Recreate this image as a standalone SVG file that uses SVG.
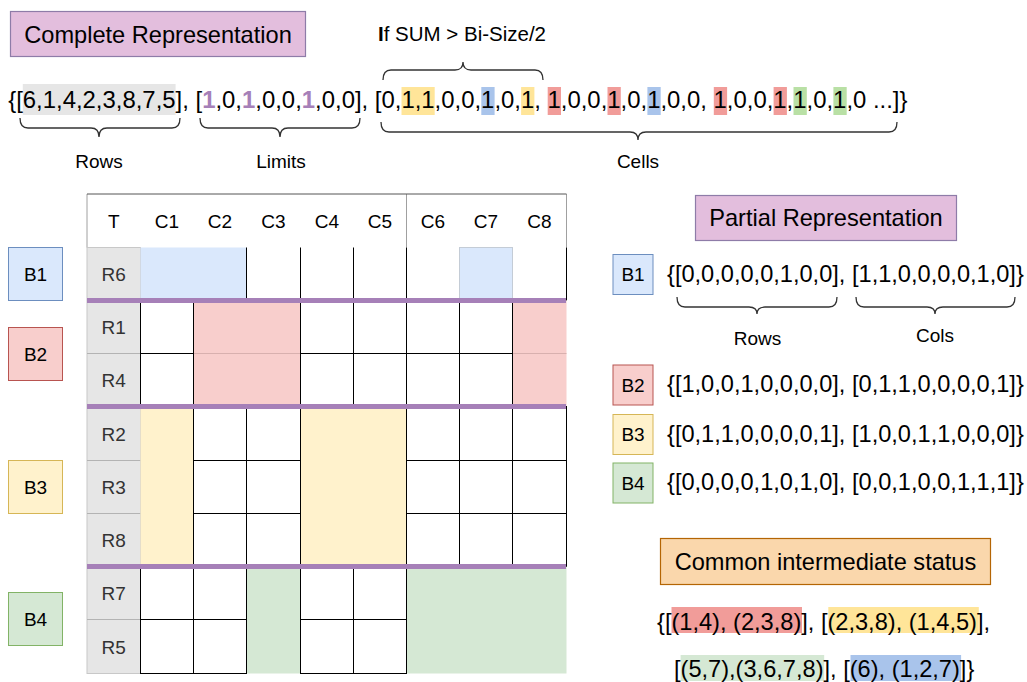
<svg xmlns="http://www.w3.org/2000/svg" width="1027" height="682" viewBox="0 0 1027 682">
<style>
text{font-family:"Liberation Sans",Arial,Helvetica,sans-serif;fill:#000}
.big{font-size:23.9px}
.mid{font-size:23.6px}
.sm{font-size:19px}
.c{text-anchor:middle}
.rl{fill:#333}
.p{fill:#A680B8;font-weight:bold}
.brace{fill:none;stroke:#333;stroke-width:1.3}
.wc{fill:#fff;stroke:#000;stroke-width:1}
.vl{stroke:#000;stroke-width:1}
.pl{stroke:#A680B8;stroke-width:5}
.hy{fill:#FFE599}.hb{fill:#A9C4EB}.hr{fill:#F19C99}.hg{fill:#B9E0A5}.hg2{fill:#D5E8D4}
.bb{fill:#DAE8FC;stroke:#6C8EBF}.br{fill:#F8CECC;stroke:#B85450}.by{fill:#FFF2CC;stroke:#D6B656}.bgr{fill:#D5E8D4;stroke:#82B366}
.title{fill:#E3BEDD;stroke:#8E7CA8;stroke-width:1.2}
</style>
<rect width="1027" height="682" fill="#fff"/>

<g id="complete-title">
<rect class="title" x="10.5" y="11.5" width="295" height="45"/>
<text class="mid c" x="158" y="42.5">Complete Representation</text>
</g>

<g id="complete-row">
<rect fill="#E6E6E6" x="22.8" y="84" width="152.8" height="31"/>
<rect class="hy" x="401.5" y="87" width="33.2" height="28"/>
<rect class="hb" x="481.3" y="87" width="13.3" height="28"/>
<rect class="hy" x="521.1" y="87" width="13.3" height="28"/>
<rect class="hr" x="547.7" y="87" width="13.3" height="28"/>
<rect class="hr" x="607.5" y="87" width="13.3" height="28"/>
<rect class="hb" x="647.4" y="87" width="13.3" height="28"/>
<rect class="hr" x="713.8" y="87" width="13.3" height="28"/>
<rect class="hr" x="773.6" y="87" width="13.3" height="28"/>
<rect class="hg" x="793.5" y="87" width="13.3" height="28"/>
<rect class="hg" x="833.4" y="87" width="13.3" height="28"/>
<text class="big" x="8.2" y="108">{[6,1,4,2,3,8,7,5], [<tspan class="p">1</tspan>,0,<tspan class="p">1</tspan>,0,0,<tspan class="p">1</tspan>,0,0], [0,1,1,0,0,1,0,1, 1,0,0,1,0,1,0,0, 1,0,0,1,1,0,1,0 ...]}</text>
<path class="brace" d="M20,118 Q20,128 28,128 L91,128 Q99,128 99,137 Q99,128 107,128 L172,128 Q180,128 180,118"/>
<path class="brace" d="M200,118 Q200,128 208,128 L272,128 Q280,128 280,137 Q280,128 288,128 L352,128 Q360,128 360,118"/>
<path class="brace" d="M381,122 Q381,132 389,132 L630,132 Q638,132 638,140 Q638,132 646,132 L889,132 Q897,132 897,122"/>
<path class="brace" d="M383,80 Q383,70 391,70 L455,70 Q463,70 463,62 Q463,70 471,70 L535,70 Q543,70 543,80"/>
<text class="sm c" x="99" y="168">Rows</text>
<text class="sm c" x="281" y="168">Limits</text>
<text class="sm c" x="638" y="168">Cells</text>
<text class="c" style="font-size:20.5px" x="462" y="41"><tspan font-weight="bold">I</tspan>f SUM &gt; Bi-Size/2</text>
</g>

<g id="table">
<rect x="87" y="194" width="479.5" height="53.5" fill="#fff"/>
<g stroke="#A0A0A0" stroke-width="1">
<line x1="87" y1="194" x2="87" y2="247.5"/>
<line x1="566.5" y1="194" x2="566.5" y2="247.5"/>
<line x1="406.5" y1="194" x2="406.5" y2="247.5"/>
</g>
<line x1="87" y1="194" x2="566.5" y2="194" stroke="#555" stroke-width="1"/>
<text class="sm c" x="113.7" y="228">T</text>
<text class="sm c" x="167" y="228">C1</text>
<text class="sm c" x="220" y="228">C2</text>
<text class="sm c" x="273.5" y="228">C3</text>
<text class="sm c" x="327" y="228">C4</text>
<text class="sm c" x="380" y="228">C5</text>
<text class="sm c" x="433" y="228">C6</text>
<text class="sm c" x="486" y="228">C7</text>
<text class="sm c" x="539.5" y="228">C8</text>

<rect x="87" y="247.5" width="53.5" height="426" fill="#E6E6E6" stroke="#C8C8C8" stroke-width="1"/>
<g stroke="#B3B3B3" stroke-width="1">
<line x1="87" y1="353.5" x2="140.5" y2="353.5"/>
<line x1="87" y1="460.5" x2="140.5" y2="460.5"/>
<line x1="87" y1="513.5" x2="140.5" y2="513.5"/>
<line x1="87" y1="619.5" x2="140.5" y2="619.5"/>
</g>
<text class="sm c rl" x="113.7" y="281">R6</text>
<text class="sm c rl" x="113.7" y="334">R1</text>
<text class="sm c rl" x="113.7" y="387">R4</text>
<text class="sm c rl" x="113.7" y="440.5">R2</text>
<text class="sm c rl" x="113.7" y="494">R3</text>
<text class="sm c rl" x="113.7" y="547">R8</text>
<text class="sm c rl" x="113.7" y="600">R7</text>
<text class="sm c rl" x="113.7" y="653.5">R5</text>

<!-- B1 row -->
<rect x="140.5" y="247.5" width="106" height="53" fill="#DAE8FC"/>
<rect x="459.5" y="247.5" width="53" height="53" fill="#DAE8FC" stroke="#C4CCD6" stroke-width="1"/>
<line class="vl" x1="246.5" y1="247.5" x2="246.5" y2="300.5"/>
<line class="vl" x1="300.5" y1="247.5" x2="300.5" y2="300.5"/>
<line class="vl" x1="353.5" y1="247.5" x2="353.5" y2="300.5"/>
<line class="vl" x1="406.5" y1="247.5" x2="406.5" y2="300.5"/>
<line class="vl" x1="566.5" y1="247.5" x2="566.5" y2="300.5"/>

<!-- B2 rows -->
<rect x="193.5" y="300.5" width="107" height="106" fill="#F8CECC"/>
<rect x="512.5" y="300.5" width="54" height="106" fill="#F8CECC"/>
<line x1="193.5" y1="353.5" x2="300.5" y2="353.5" stroke="#D8B0AE" stroke-width="1"/>
<line x1="512.5" y1="353.5" x2="566.5" y2="353.5" stroke="#D8B0AE" stroke-width="1"/>
<rect class="wc" x="140.5" y="300.5" width="53" height="53"/>
<rect class="wc" x="300.5" y="300.5" width="53" height="53"/>
<rect class="wc" x="353.5" y="300.5" width="53" height="53"/>
<rect class="wc" x="406.5" y="300.5" width="53" height="53"/>
<rect class="wc" x="459.5" y="300.5" width="53" height="53"/>
<rect class="wc" x="140.5" y="353.5" width="53" height="53"/>
<rect class="wc" x="300.5" y="353.5" width="53" height="53"/>
<rect class="wc" x="353.5" y="353.5" width="53" height="53"/>
<rect class="wc" x="406.5" y="353.5" width="53" height="53"/>
<rect class="wc" x="459.5" y="353.5" width="53" height="53"/>

<!-- B3 rows -->
<rect x="140.5" y="406.5" width="53" height="160" fill="#FFF2CC"/>
<rect x="300.5" y="406.5" width="106" height="160" fill="#FFF2CC"/>
<rect class="wc" x="193.5" y="406.5" width="53" height="54"/>
<rect class="wc" x="246.5" y="406.5" width="54" height="54"/>
<rect class="wc" x="406.5" y="406.5" width="53" height="54"/>
<rect class="wc" x="459.5" y="406.5" width="53" height="54"/>
<rect class="wc" x="512.5" y="406.5" width="54" height="54"/>
<rect class="wc" x="193.5" y="460.5" width="53" height="53"/>
<rect class="wc" x="246.5" y="460.5" width="54" height="53"/>
<rect class="wc" x="406.5" y="460.5" width="53" height="53"/>
<rect class="wc" x="459.5" y="460.5" width="53" height="53"/>
<rect class="wc" x="512.5" y="460.5" width="54" height="53"/>
<rect class="wc" x="193.5" y="513.5" width="53" height="53"/>
<rect class="wc" x="246.5" y="513.5" width="54" height="53"/>
<rect class="wc" x="406.5" y="513.5" width="53" height="53"/>
<rect class="wc" x="459.5" y="513.5" width="53" height="53"/>
<rect class="wc" x="512.5" y="513.5" width="54" height="53"/>

<!-- B4 rows -->
<rect x="246.5" y="566.5" width="54" height="107" fill="#D5E8D4"/>
<rect x="406.5" y="566.5" width="160" height="107" fill="#D5E8D4"/>
<rect class="wc" x="140.5" y="566.5" width="53" height="53"/>
<rect class="wc" x="193.5" y="566.5" width="53" height="53"/>
<rect class="wc" x="300.5" y="566.5" width="53" height="53"/>
<rect class="wc" x="353.5" y="566.5" width="53" height="53"/>
<rect class="wc" x="140.5" y="619.5" width="53" height="54"/>
<rect class="wc" x="193.5" y="619.5" width="53" height="54"/>
<rect class="wc" x="300.5" y="619.5" width="53" height="54"/>
<rect class="wc" x="353.5" y="619.5" width="53" height="54"/>

<line class="pl" x1="87" y1="300.5" x2="566" y2="300.5"/>
<line class="pl" x1="87" y1="406.5" x2="566" y2="406.5"/>
<line class="pl" x1="87" y1="566.5" x2="566" y2="566.5"/>
</g>

<g id="B1"><rect class="bb" x="8.5" y="247.5" width="54" height="53"/><text class="sm c" x="35.5" y="280.5">B1</text></g>
<g id="B2"><rect class="br" x="8.5" y="327.5" width="54" height="53"/><text class="sm c" x="35.5" y="360.5">B2</text></g>
<g id="B3"><rect class="by" x="8.5" y="460.5" width="54" height="53"/><text class="sm c" x="35.5" y="493.5">B3</text></g>
<g id="B4"><rect class="bgr" x="8.5" y="592.5" width="54" height="53"/><text class="sm c" x="35.5" y="625.5">B4</text></g>

<g id="partial-title">
<rect class="title" x="695.5" y="195.5" width="261" height="45"/>
<text class="mid c" x="826" y="226">Partial Representation</text>
</g>

<g id="partial-B1">
<rect class="bb" x="613" y="254.5" width="40" height="40"/><text class="sm c" x="633" y="281">B1</text>
<text class="mid" x="667" y="282">{[0,0,0,0,0,1,0,0], [1,1,0,0,0,0,1,0]}</text>
<path class="brace" d="M677,297 Q677,307 685,307 L749,307 Q757,307 757,314 Q757,307 765,307 L829,307 Q837,307 837,297"/>
<path class="brace" d="M856,297 Q856,307 864,307 L927,307 Q935,307 935,314 Q935,307 943,307 L1007,307 Q1015,307 1015,297"/>
<text class="sm c" x="757.5" y="345">Rows</text>
<text class="sm c" x="935" y="342">Cols</text>
</g>
<g id="partial-B2">
<rect class="br" x="613" y="365" width="40" height="40"/><text class="sm c" x="633" y="391.5">B2</text>
<text class="mid" x="667" y="392">{[1,0,0,1,0,0,0,0], [0,1,1,0,0,0,0,1]}</text>
</g>
<g id="partial-B3">
<rect class="by" x="613" y="414.5" width="40" height="40"/><text class="sm c" x="633" y="441">B3</text>
<text class="mid" x="667" y="442">{[0,1,1,0,0,0,0,1], [1,0,0,1,1,0,0,0]}</text>
</g>
<g id="partial-B4">
<rect class="bgr" x="613" y="463" width="40" height="40"/><text class="sm c" x="633" y="489.5">B4</text>
<text class="mid" x="667" y="490">{[0,0,0,0,1,0,1,0], [0,0,1,0,0,1,1,1]}</text>
</g>

<g id="common-title">
<rect x="660.5" y="538.5" width="330" height="46" fill="#FAD7AC" stroke="#B46504" stroke-width="1.2"/>
<text class="mid c" x="825.5" y="570">Common intermediate status</text>
</g>
<g id="common-status">
<rect class="hr" x="671.5" y="607" width="130.5" height="26"/>
<rect class="hy" x="828.3" y="607" width="150.5" height="26"/>
<rect class="hg2" x="680.6" y="655" width="143.6" height="26"/>
<rect class="hb" x="850.5" y="655" width="110.6" height="26"/>
<text class="mid" x="657" y="630">{[(1,4), (2,3,8)], [(2,3,8), (1,4,5)],</text>
<text class="mid" x="674" y="677">[(5,7),(3,6,7,8)], [(6), (1,2,7)]}</text>
</g>
</svg>
